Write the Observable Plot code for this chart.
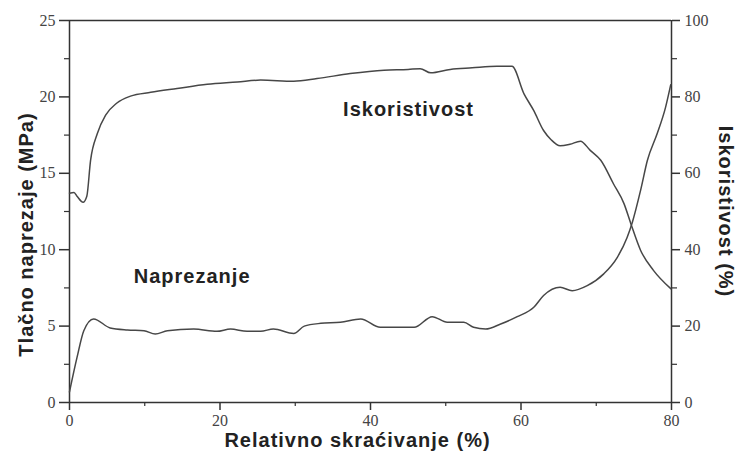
<!DOCTYPE html>
<html>
<head>
<meta charset="utf-8">
<script src="https://cdn.jsdelivr.net/npm/d3@7"></script>
<script src="https://cdn.jsdelivr.net/npm/@observablehq/plot@0.6"></script>
<style>
  html, body { margin: 0; padding: 0; background: #fff; }
  svg g[aria-label="text"] text { letter-spacing: 1px; }
</style>
</head>
<body>
<div id="chart"></div>
<script>
// Stress (left axis, MPa) vs relative shortening (%)
const stressX = [0, 1.0, 1.9, 3.2, 5.4, 7.7, 9.9, 11.4, 13, 16.5, 19.6, 21.4, 23.6, 25.4, 27.1, 29.8, 31.2, 33.4, 36, 38.7, 41.3, 45.8, 48.2, 50.2, 52.4, 53.7, 55.3, 57.3, 59.5, 61.7, 63.0, 65.2, 66.8, 68.8, 71.0, 72.8, 74.1, 74.8, 75.9, 76.8, 78.1, 79.2, 79.9];
const stressY = [0.7, 2.95, 4.7, 5.47, 4.88, 4.75, 4.7, 4.48, 4.7, 4.81, 4.66, 4.81, 4.66, 4.66, 4.81, 4.52, 5.0, 5.18, 5.25, 5.47, 4.92, 4.92, 5.62, 5.25, 5.25, 4.92, 4.81, 5.14, 5.62, 6.23, 7.0, 7.54, 7.32, 7.65, 8.42, 9.5, 10.8, 11.8, 13.9, 15.85, 17.6, 19.3, 20.8];

// Efficiency (right axis, %) vs relative shortening (%)
const effX = [0, 0.6, 1.0, 1.8, 2.3, 2.8, 3.7, 4.8, 6.3, 8.1, 10.8, 14.3, 18.3, 22.3, 25.4, 29.8, 32.9, 37.3, 41.8, 45, 46.6, 48, 50.6, 53.5, 56.8, 58.8, 60.4, 61.7, 63.0, 64, 65.2, 66.5, 67.9, 69.2, 70.6, 72.3, 73.7, 74.6, 75.9, 77.6, 79.9];
const effY = [54.8, 55.0, 54.0, 52.4, 54.0, 63.4, 70.4, 75.2, 78.4, 80.2, 81.2, 82.2, 83.3, 83.9, 84.4, 84.1, 84.8, 86.1, 87.0, 87.2, 87.4, 86.3, 87.2, 87.6, 88.0, 88.0, 80.8, 76.4, 71.2, 68.8, 67.2, 67.6, 68.4, 66.0, 63.4, 57.2, 52.0, 46.8, 39.8, 34.6, 29.8];

const xTicks = [0, 20, 40, 60, 80];
const xMinor = [10, 30, 50, 70];
const yLeftTicks = [0, 5, 10, 15, 20, 25];
const yMinor = [2.5, 7.5, 12.5, 17.5, 22.5];
const yRightTicks = [0, 20, 40, 60, 80, 100];

const annLabels = ["Iskoristivost", "Naprezanje"];
const annX = [45.05, 16.3];
const annY = [19.2, 8.24];

const xTitle = "Relativno skraćivanje (%)";
const yLeftTitle = "Tlačno naprezaje (MPa)";
const yRightTitle = "Iskoristivost (%)";

const ratio = 25 / 100; // right axis (%) -> left axis units

const stress = stressX.map((x, i) => ({x, y: stressY[i]}));
const eff = effX.map((x, i) => ({x, y: effY[i] * ratio}));
const ann = annLabels.map((t, i) => ({t, x: annX[i], y: annY[i]}));

const ink = "#333";
const curveInk = "#474747";
const titleFont = {fontFamily: "Liberation Sans", fontWeight: "bold", fontSize: 20, fill: "#222", textAnchor: "middle"};

const chart = Plot.plot({
  width: 737,
  height: 459,
  marginTop: 20,
  marginLeft: 69,
  marginRight: 66,
  marginBottom: 57,
  style: {fontFamily: "Liberation Serif", fontSize: "16px", color: "#444", background: "#fff"},
  x: {domain: [0, 80]},
  y: {domain: [0, 25]},
  marks: [
    // axes frame lines
    Plot.ruleY([0], {stroke: ink, strokeWidth: 1.5}),
    Plot.ruleY([25], {stroke: ink, strokeWidth: 1.5}),
    Plot.ruleX([0], {stroke: ink, strokeWidth: 1.5}),
    Plot.ruleX([80], {stroke: ink, strokeWidth: 1.5}),
    // x axis
    Plot.axisX({ticks: xTicks, tickSize: 8, tickPadding: 4, label: null, stroke: ink, strokeWidth: 1.5, fill: "#444"}),
    Plot.axisX({ticks: xMinor, tickSize: 4, tickFormat: () => "", label: null, stroke: ink, strokeWidth: 1.2}),
    // left axis
    Plot.axisY({ticks: yLeftTicks, tickSize: 10, tickPadding: 4, label: null, stroke: ink, strokeWidth: 1.5, fill: "#444"}),
    Plot.axisY({ticks: yMinor, tickSize: 5, tickFormat: () => "", label: null, stroke: ink, strokeWidth: 1.2}),
    // right axis (percent)
    Plot.axisY({anchor: "right", ticks: yRightTicks.map(d => d * ratio), tickFormat: d => String(Math.round(d / ratio)), tickSize: 8, tickPadding: 5, label: null, stroke: ink, strokeWidth: 1.5, fill: "#444"}),
    Plot.axisY({anchor: "right", ticks: yMinor, tickSize: 5, tickFormat: () => "", label: null, stroke: ink, strokeWidth: 1.2}),
    // curves
    Plot.line(stress, {x: "x", y: "y", stroke: curveInk, strokeWidth: 1.5, curve: "monotone-x"}),
    Plot.line(eff, {x: "x", y: "y", stroke: curveInk, strokeWidth: 1.5, curve: "monotone-x"}),
    // annotations
    Plot.text(ann, {x: "x", y: "y", text: "t", ...titleFont}),
    // axis titles
    Plot.text([xTitle], {frameAnchor: "bottom", dx: -13, dy: 44, ...titleFont}),
    Plot.text([yLeftTitle], {frameAnchor: "left", rotate: -90, dx: -43, dy: 23, ...titleFont}),
    Plot.text([yRightTitle], {frameAnchor: "right", rotate: 90, dx: 54, dy: 0, ...titleFont})
  ]
});

document.getElementById("chart").appendChild(chart);
</script>
</body>
</html>
